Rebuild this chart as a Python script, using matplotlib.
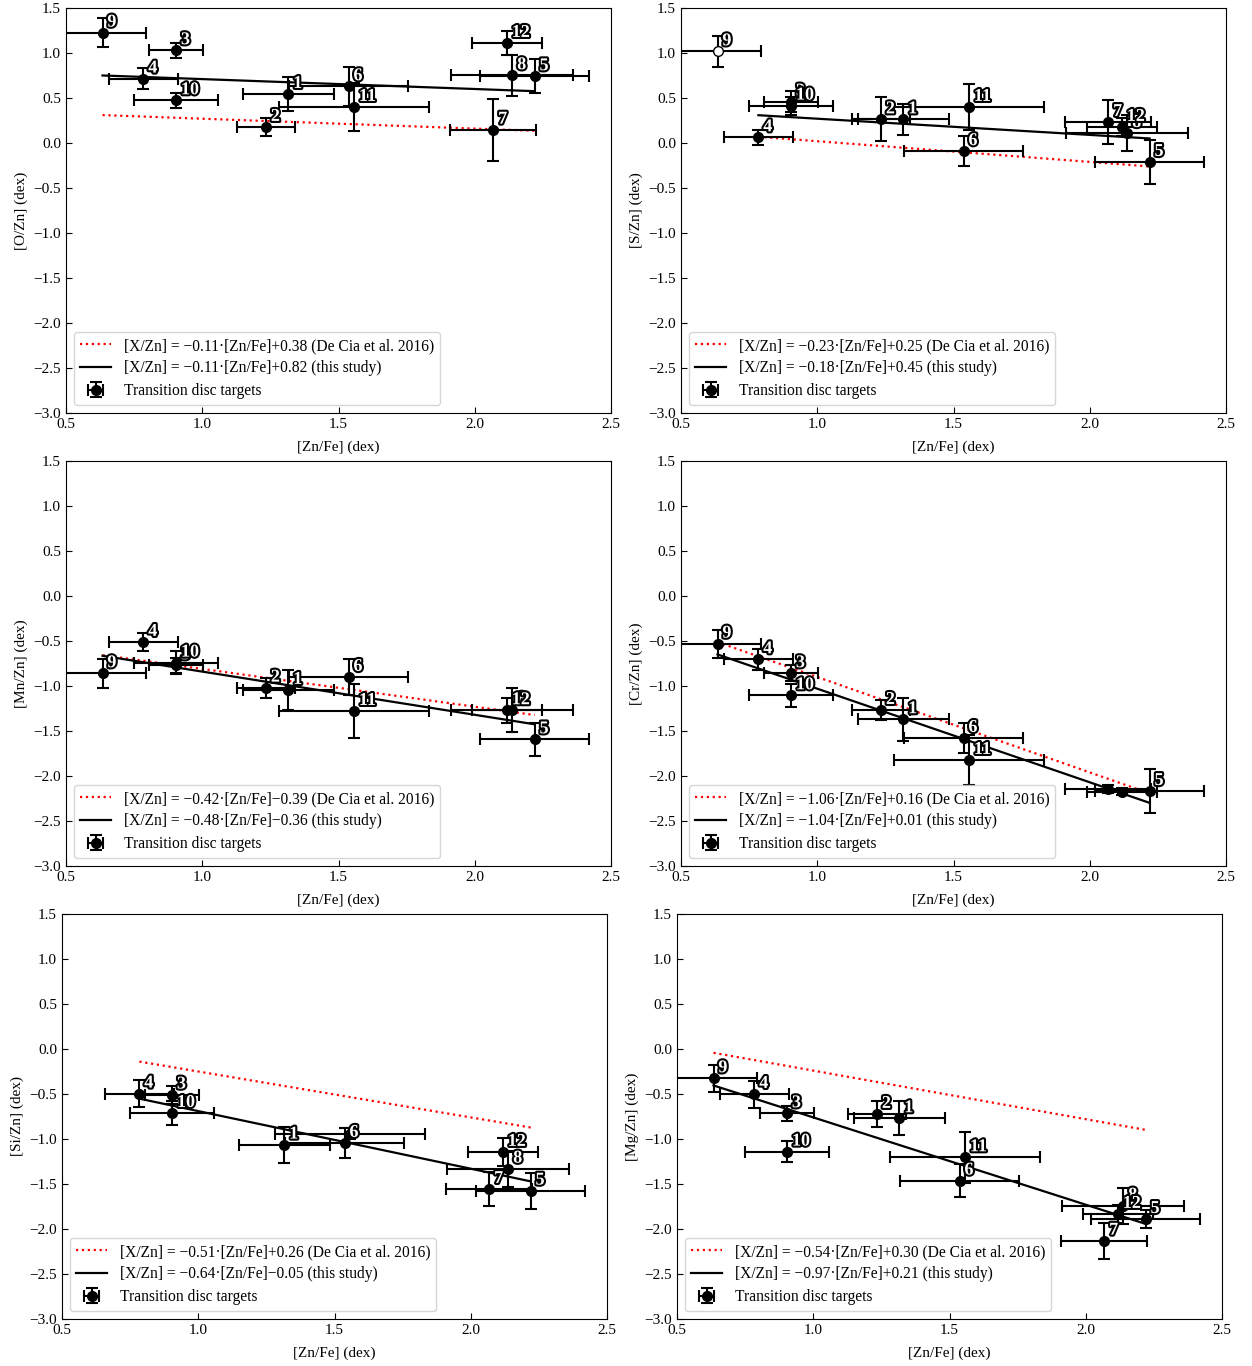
import numpy as np
import matplotlib
matplotlib.use('Agg')
import matplotlib.pyplot as plt
import matplotlib.patheffects as pe

plt.rcParams['font.family'] = ['Liberation Serif', 'DejaVu Serif']
plt.rcParams['mathtext.fontset'] = 'stix'

# ── 데이터 (대상 1..12) ────────────────────────────────────
targets = [str(i) for i in range(1, 13)]
zn_fe = [1.316, 1.234, 0.904, 0.784, 2.22, 1.537, 2.068, 2.138, 0.634, 0.904, 1.557, 2.118]
zn_fe_err = [0.168, 0.107, 0.10, 0.128, 0.20, 0.217, 0.157, 0.224, 0.158, 0.155, 0.275, 0.128]

nan = np.nan
o_zn = [0.544, 0.178, 1.03, 0.715, 0.741, 0.63, 0.148, 0.752, 1.226, 0.474, 0.40, 1.111]
o_zn_err = [0.19, 0.10, 0.08, 0.12, 0.19, 0.22, 0.345, 0.23, 0.16, 0.085, 0.27, 0.13]

s_zn = [0.262, 0.262, 0.46, 0.062, -0.211, -0.091, 0.233, 0.111, 1.018, 0.415, 0.40, 0.178]
s_zn_err = [0.17, 0.245, 0.12, 0.085, 0.24, 0.165, 0.24, 0.20, 0.175, 0.10, 0.26, 0.10]

mn_zn = [-1.044, -1.019, -0.77, -0.511, -1.593, -0.90, nan, -1.265, -0.859, -0.741, -1.278, -1.27]
mn_zn_err = [0.22, 0.11, 0.08, 0.10, 0.18, 0.20, nan, 0.245, 0.16, 0.13, 0.30, 0.14]

cr_zn = [-1.37, -1.267, -0.859, -0.704, -2.167, -1.578, -2.144, nan, -0.53, -1.104, -1.822, -2.174]
cr_zn_err = [0.24, 0.11, 0.09, 0.12, 0.24, 0.165, 0.04, nan, 0.155, 0.13, 0.28, 0.04]

si_zn = [-1.063, nan, -0.507, -0.496, -1.574, -1.044, -1.556, -1.33, nan, -0.711, -0.941, -1.144]
si_zn_err = [0.20, nan, 0.10, 0.15, 0.20, 0.165, 0.19, 0.20, nan, 0.13, 0.06, 0.16]

mg_zn = [-0.77, -0.722, -0.715, -0.50, -1.889, -1.463, -2.13, -1.741, -0.326, -1.141, -1.204, -1.833]
mg_zn_err = [0.19, 0.14, 0.08, 0.15, 0.10, 0.18, 0.20, 0.20, 0.15, 0.115, 0.28, 0.10]

# (기울기, 절편): De Cia 2016 / this study
fit_decia = {'O': (-0.11, 0.38), 'S': (-0.23, 0.25), 'Mn': (-0.42, -0.39),
             'Cr': (-1.06, 0.16), 'Si': (-0.51, 0.26), 'Mg': (-0.54, 0.30)}
fit_this = {'O': (-0.11, 0.82), 'S': (-0.18, 0.45), 'Mn': (-0.48, -0.36),
            'Cr': (-1.04, 0.01), 'Si': (-0.64, -0.05), 'Mg': (-0.97, 0.21)}

open_pts = {'S': ['9']}                           # 속이 빈 마커
no_label = {'Cr': ['7', '12'], 'Si': ['11']}      # 라벨 없는 점

panels = [('O', o_zn, o_zn_err), ('S', s_zn, s_zn_err),
          ('Mn', mn_zn, mn_zn_err), ('Cr', cr_zn, cr_zn_err),
          ('Si', si_zn, si_zn_err), ('Mg', mg_zn, mg_zn_err)]

# axes 위치 (픽셀: left, top)
W, H = 1252, 1366
AW, AH = 545, 405
pos_px = [(66, 8), (681, 8), (66, 461), (681, 461), (62, 914), (677, 914)]


def fmt_fit(a, b):
    sa = '\u2212' if a < 0 else ''
    sb = '\u2212' if b < 0 else '+'
    return f"[X/Zn] = {sa}{abs(a):.2f}\u00b7[Zn/Fe]{sb}{abs(b):.2f}"


fig = plt.figure(figsize=(W / 100, H / 100), dpi=100)

for (el, yv, ye), (px, py) in zip(panels, pos_px):
    ax = fig.add_axes([px / W, 1 - (py + AH) / H, AW / W, AH / H])
    x = np.array(zn_fe); xe = np.array(zn_fe_err)
    y = np.array(yv, dtype=float); yerr = np.array(ye, dtype=float)
    is_open = np.array([t in open_pts.get(el, []) for t in targets])
    ok = ~np.isnan(y)
    fit_mask = ok & ~is_open
    xx = np.array([x[fit_mask].min(), x[fit_mask].max()])

    a1, b1 = fit_decia[el]
    a2, b2 = fit_this[el]
    h1, = ax.plot(xx, a1 * xx + b1, ':', color='red', lw=1.6,
                  label=fmt_fit(a1, b1) + " (De Cia et al. 2016)")
    h2, = ax.plot(xx, a2 * xx + b2, '-', color='black', lw=1.6,
                  label=fmt_fit(a2, b2) + " (this study)")

    m = fit_mask
    h3 = ax.errorbar(x[m], y[m], xerr=xe[m], yerr=yerr[m], fmt='o', color='black',
                     ms=7, elinewidth=1.5, capsize=4, capthick=1.5,
                     label='Transition disc targets', zorder=3)
    mo = ok & is_open
    if mo.any():
        ax.errorbar(x[mo], y[mo], xerr=xe[mo], yerr=yerr[mo], fmt='o', color='black',
                    mfc='white', ms=7, elinewidth=1.5, capsize=4, capthick=1.5, zorder=3)

    for i, t in enumerate(targets):
        if not ok[i] or t in no_label.get(el, []):
            continue
        ax.annotate(t, (x[i], y[i]), xytext=(3.5, 1.5), textcoords='offset points',
                    ha='left', va='bottom', fontsize=13, fontweight='bold',
                    color='white', zorder=5,
                    path_effects=[pe.withStroke(linewidth=3, foreground='black')])

    ax.set_xlim(0.5, 2.5)
    ax.set_ylim(-3.0, 1.5)
    ax.set_xticks(np.arange(0.5, 2.51, 0.5))
    ax.set_yticks(np.arange(-3.0, 1.51, 0.5))
    ax.tick_params(direction='in', labelsize=11, length=4)
    ax.set_xlabel('[Zn/Fe] (dex)', fontsize=11, labelpad=7)
    ax.set_ylabel(f'[{el}/Zn] (dex)', fontsize=11)
    ax.legend(handles=[h1, h2, h3], loc='lower left', fontsize=11.2, labelspacing=0.42)

fig.savefig('out.png', dpi=100)
